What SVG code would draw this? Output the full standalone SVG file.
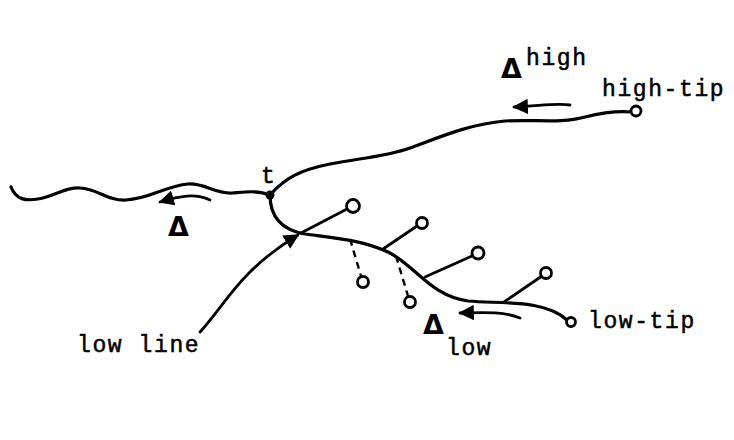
<svg xmlns="http://www.w3.org/2000/svg" width="734" height="440" viewBox="0 0 734 440">
  <style>
    .line { fill: none; stroke: #000; stroke-width: 3.2; stroke-linecap: round; stroke-linejoin: round; }
    .stub { fill: none; stroke: #000; stroke-width: 2.8; stroke-linecap: round; }
    .dash { fill: none; stroke: #000; stroke-width: 2.4; stroke-dasharray: 7 5; }
    .tip { fill: #fff; stroke: #000; stroke-width: 2.8; }
    .arrow { fill: none; stroke: #000; stroke-width: 2.8; stroke-linecap: round; }
    .mono { font-family: "Liberation Mono", "Courier New", monospace; font-size: 23px; letter-spacing: 1.6px; fill: #000; stroke: #000; stroke-width: 0.5; }
    .delta { font-family: "DejaVu Sans", sans-serif; font-weight: bold; font-size: 27px; fill: #000; }
  </style>
  <defs>
    <marker id="head" viewBox="0 0 10 10" refX="9" refY="5" markerWidth="5.5" markerHeight="5.5" orient="auto" markerUnits="strokeWidth">
      <path d="M0,0 L10,5 L0,10 z" fill="#000"/>
    </marker>
  </defs>
  <rect width="734" height="440" fill="#fff"/>

  <g id="connectors">
    <!-- trunk line left of t -->
    <path class="line" d="M11,187 C16,200 26,201 38,199 C55,196 65,187 80,188 C98,189 108,201 126,200 C150,199 165,186 188,184 C205,183 215,194 232,193 C245,192 258,190 270,195"/>
    <!-- high line -->
    <path class="line" d="M270,195 C285,178 300,170 330,164 C360,158 385,157 410,148 C440,137 470,124 505,121 C535,119 560,124 585,117 C605,112 620,111 632,112"/>
    <!-- low line -->
    <path class="line" d="M270,195 C270,218 282,230 305,234 C335,238 362,240 388,252 C415,265 430,296 468,301 C500,304 545,299 567,320"/>

    <!-- side branches with open tips -->
    <line class="stub" x1="301" y1="233" x2="347" y2="209"/>
    <line class="stub" x1="383" y1="249" x2="417" y2="226"/>
    <line class="stub" x1="425" y1="277" x2="472" y2="256"/>
    <line class="stub" x1="504" y1="302" x2="542" y2="276"/>
    <line class="dash" x1="350" y1="239" x2="361" y2="276"/>
    <line class="dash" x1="396" y1="256" x2="408" y2="296"/>

    <!-- direction arrows -->
    <path class="arrow" marker-end="url(#head)" d="M210,200 C195,193 180,196 160,202"/>
    <path class="arrow" marker-end="url(#head)" d="M570,105 C555,103 540,106 514,107"/>
    <path class="arrow" marker-end="url(#head)" d="M520,318 C505,312 490,312 460,313"/>
    <path class="arrow" marker-end="url(#head)" d="M200,332 C225,305 240,270 298,235"/>
  </g>

  <g id="t">
    <circle cx="270" cy="195" r="4.5" fill="#000"/>
    <text class="mono" x="261" y="183">t</text>
  </g>
  <g id="tip-1"><circle class="tip" cx="353" cy="206" r="6.5"/></g>
  <g id="tip-2"><circle class="tip" cx="422" cy="223" r="5.5"/></g>
  <g id="tip-3"><circle class="tip" cx="478" cy="253" r="6"/></g>
  <g id="tip-4"><circle class="tip" cx="546" cy="273" r="5.5"/></g>
  <g id="tip-5"><circle class="tip" cx="363" cy="282" r="5.5"/></g>
  <g id="tip-6"><circle class="tip" cx="410" cy="302" r="5.5"/></g>
  <g id="high-tip">
    <circle class="tip" cx="636" cy="111" r="5"/>
    <text class="mono" x="602" y="96">high-tip</text>
  </g>
  <g id="low-tip">
    <circle class="tip" cx="571" cy="322" r="4.5"/>
    <text class="mono" x="588" y="328">low-tip</text>
  </g>
  <g id="delta">
    <text class="delta" x="168" y="236">Δ</text>
  </g>
  <g id="delta-high">
    <text class="delta" x="501" y="78">Δ</text>
    <text class="mono" x="526" y="65">high</text>
  </g>
  <g id="delta-low">
    <text class="delta" x="423" y="334">Δ</text>
    <text class="mono" x="446" y="355">low</text>
  </g>
  <g id="low-line-label">
    <text class="mono" x="77" y="352">low line</text>
  </g>
</svg>
